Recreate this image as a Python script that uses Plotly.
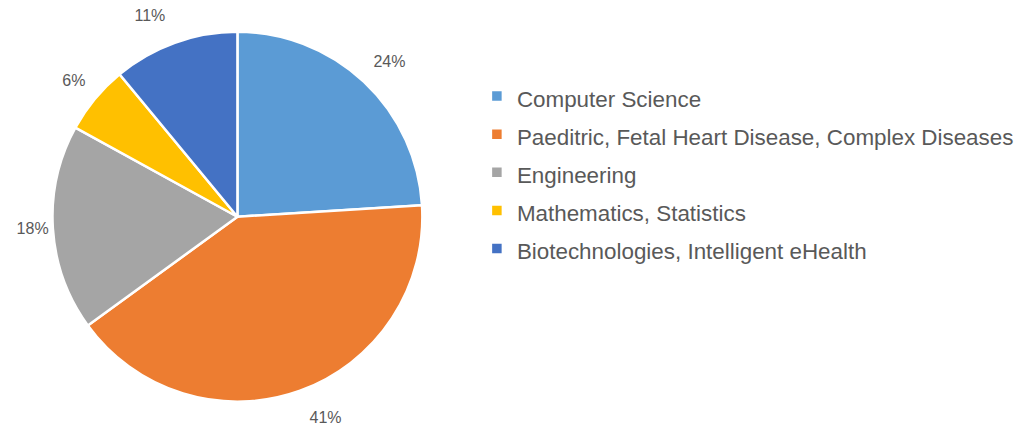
import plotly.graph_objects as go

categories = ["Computer Science",
              "Paeditric, Fetal Heart Disease, Complex Diseases",
              "Engineering",
              "Mathematics, Statistics",
              "Biotechnologies, Intelligent eHealth"]
values = [24, 41, 18, 6, 11]
colors = ["#5B9BD5", "#ED7D31", "#A5A5A5", "#FFC000", "#4472C4"]

legend_labels = ['<span style="font-size:22.4px">' + c + '</span>' for c in categories]
# label templates (extra blank lines push labels away from the pie like Excel's outside-end labels)
label_templates = ["%{percent:.0%}<br> ",
                   " <br>%{percent:.0%}",
                   "%{percent:.0%}",
                   "%{percent:.0%}<br> ",
                   "%{percent:.0%}<br> "]

dom_x = [0.233 - 0.19, 0.233 + 0.19]
dom_y = [0.0787, 0.927]

fig = go.Figure(go.Pie(
    labels=legend_labels,
    values=values,
    sort=False,
    direction="clockwise",
    rotation=0,
    marker=dict(colors=colors, line=dict(color="white", width=2.5)),
    texttemplate=label_templates,
    textposition="outside",
    outsidetextfont=dict(color="#595959", size=16, family="Liberation Sans, Arial, sans-serif"),
    domain=dict(x=dom_x, y=dom_y),
    hoverinfo="percent",
))

fig.update_layout(
    width=1019, height=436,
    margin=dict(l=0, r=0, t=0, b=0, autoexpand=False),
    paper_bgcolor="white",
    plot_bgcolor="white",
    showlegend=True,
    legend=dict(
        x=0.468, xanchor="left",
        y=0.6043, yanchor="middle",
        font=dict(size=27, color="#595959", family="Liberation Sans, Arial, sans-serif"),
        itemwidth=30,
        bgcolor="rgba(0,0,0,0)",
    ),
)

fig.write_html("out.html",
               config={"displayModeBar": False},
               post_script="document.body.style.margin='0';document.body.style.overflow='hidden';")
